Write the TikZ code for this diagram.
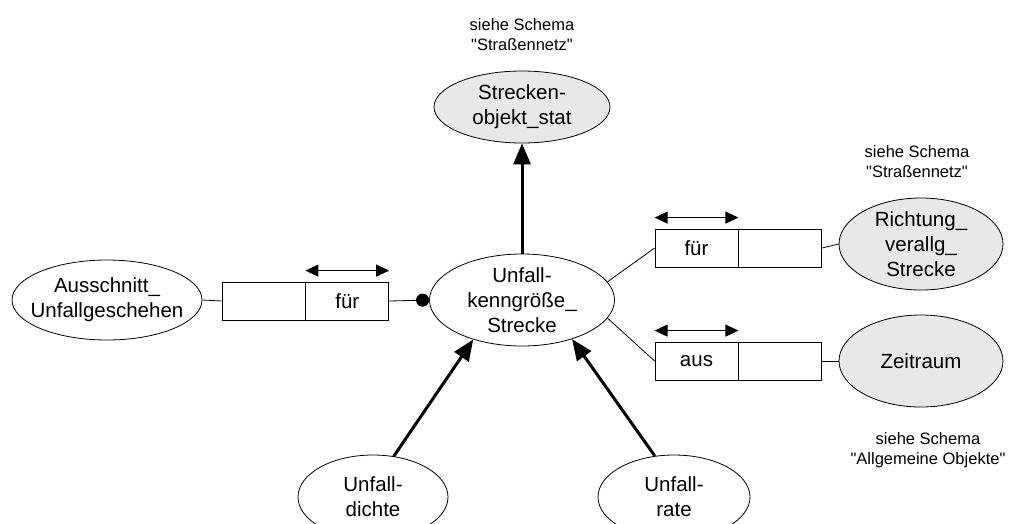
\documentclass[tikz,border=0pt]{standalone}
\usepackage{fontspec}
\setmainfont{Liberation Sans}
\usetikzlibrary{shapes.geometric,arrows.meta}
\definecolor{entgray}{gray}{0.91}
\begin{document}
\begin{tikzpicture}[x=1pt, y=-1pt, line width=0.8pt,
  ent/.style={ellipse, draw, inner xsep=-12pt, inner ysep=0pt, align=center, font=\fontsize{20.5}{25}\selectfont},
  ext/.style={ent, fill=entgray},
  cell/.style={draw, minimum width=83pt, minimum height=38pt, inner sep=0pt, font=\fontsize{20.5}{25}\selectfont},
  note/.style={align=center, font=\fontsize{16.5}{20}\selectfont},
  isa/.style={-{Triangle[length=21pt,width=17pt]}, line width=3pt},
  dir/.style={{Triangle[length=13pt,width=12pt]}-{Triangle[length=13pt,width=12pt]}, line width=1pt}]
  \useasboundingbox (0,0) rectangle (1014,523);
  \node[ent, minimum width=185pt, minimum height=84pt] (kenn) at (522,300) {Unfall-\\kenngröße\_\\Strecke};
  \node[ext, minimum width=176pt, minimum height=72pt] (strecke) at (522,107) {Strecken-\\objekt\_stat};
  \node[ent, minimum width=190pt, minimum height=80pt] (ausschn) at (107,300) {Ausschnitt\_\\Unfallgeschehen};
  \node[ext, minimum width=164pt, minimum height=88pt] (richtung) at (921,244) {Richtung\_\\verallg\_\\Strecke};
  \node[ext, minimum width=164pt, minimum height=92pt] (zeit) at (921,361) {Zeitraum};
  \node[ent, minimum width=150pt, minimum height=84pt] (dichte) at (373,497) {Unfall-\\dichte};
  \node[ent, minimum width=152pt, minimum height=84pt] (rate) at (674,497) {Unfall-\\rate};
  \node[cell] (fuerA) at (263.5,301) {};
  \node[cell, anchor=west] (fuerB) at (fuerA.east) {für};
  \node[cell] (richtA) at (696.5,248) {für};
  \node[cell, anchor=west] (richtB) at (richtA.east) {};
  \node[cell] (zeitA) at (696.5,361) {aus};
  \node[cell, anchor=west] (zeitB) at (zeitA.east) {};
  \node[note] (notestr) at (522,35) {siehe Schema\\\textquotedbl Straßennetz\textquotedbl};
  \node[note] (noterich) at (917,162) {siehe Schema\\\textquotedbl Straßennetz\textquotedbl};
  \node[note] (notezeit) at (928,450) {siehe Schema\\\textquotedbl Allgemeine Objekte\textquotedbl};
  \draw (ausschn.east) -- (fuerA.west);
  \draw[-{Circle[length=13pt]}] (fuerB.east) -- (kenn.west);
  \draw (kenn.12) -- (richtA.west);
  \draw (kenn.-12) -- (zeitA.west);
  \draw (richtB.east) -- (richtung.west);
  \draw (zeitB.east) -- (zeit.west);
  \draw[dir] ([yshift=11pt]fuerB.north west) -- ([yshift=11pt]fuerB.north east);
  \draw[dir] ([yshift=11pt]richtA.north west) -- ([yshift=11pt]richtA.north east);
  \draw[dir] ([yshift=11pt]zeitA.north west) -- ([yshift=11pt]zeitA.north east);
  \draw[isa] (kenn.north) -- (strecke.south);
  \draw[isa] (dichte.63) -- (kenn.219);
  \draw[isa] (rate.115) -- (kenn.322);
\end{tikzpicture}
\end{document}
